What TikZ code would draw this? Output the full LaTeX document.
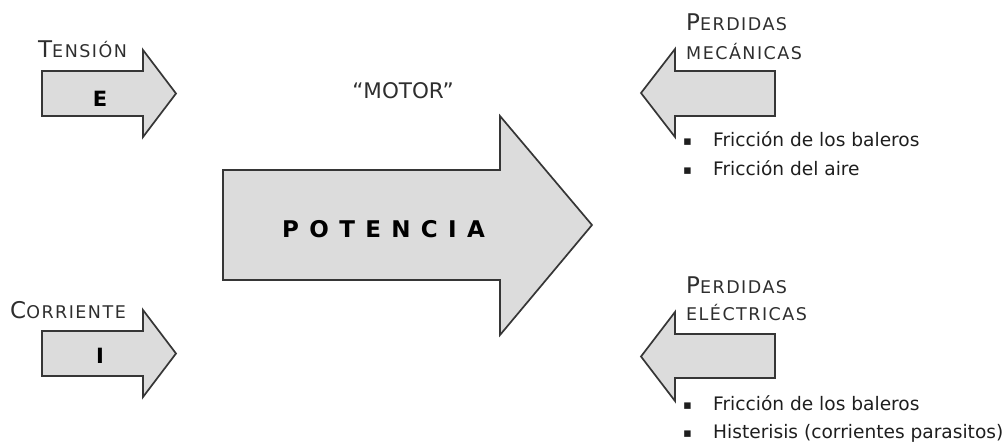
\documentclass[tikz,border=0pt]{standalone}
\usepackage{fontspec}
\setmainfont{DejaVu Sans}
\definecolor{arrfill}{HTML}{DCDCDC}
\definecolor{arrline}{HTML}{363636}
\definecolor{labcol}{HTML}{2E2E2E}
\definecolor{bulcol}{HTML}{1E1E1E}
\newcommand\mysc[2]{{\fontsize{23}{26}\selectfont #1}{\fontsize{17.5}{20}\selectfont #2}}
\newcommand\mybul{\makebox[30pt][l]{\raisebox{1pt}{\fontsize{13}{14}\selectfont ▪}}}
\begin{document}
\begin{tikzpicture}[x=1pt,y=-1pt,
  arr/.style={fill=arrfill, draw=arrline, line width=1.7pt, line join=miter},
  lab/.style={anchor=base west, inner sep=0pt, text=labcol, font=\addfontfeature{LetterSpace=8.5}},
  bul/.style={anchor=base west, inner sep=0pt, text=bulcol, font=\fontsize{18.6}{21}\selectfont},
  big/.style={anchor=base, inner sep=0pt, text=black, font=\bfseries\fontsize{21}{24}\selectfont},
]
\useasboundingbox (0,0) rectangle (1005,442);

% input arrows
\draw[arr] (42,71) -- (143,71) -- (143,50) -- (176,93.5) -- (143,137) -- (143,116) -- (42,116) -- cycle;
\draw[arr] (42,331) -- (143,331) -- (143,310) -- (176,353.5) -- (143,397) -- (143,376) -- (42,376) -- cycle;
% main arrow
\draw[arr] (223,170) -- (500,170) -- (500,116) -- (592,225) -- (500,335) -- (500,280) -- (223,280) -- cycle;
% loss arrows
\draw[arr] (775,71) -- (675,71) -- (675,49) -- (641,93) -- (675,137) -- (675,116) -- (775,116) -- cycle;
\draw[arr] (775,334) -- (675,334) -- (675,312) -- (641,356.5) -- (675,401) -- (675,378) -- (775,378) -- cycle;

% labels
\node[lab] (tension) at (38,57) {\mysc{T}{ENSIÓN}};
\node[big] (e) at (100,106) {E};
\node[lab] (corriente) at (10,318) {\mysc{C}{ORRIENTE}};
\node[big] (i) at (100,363) {I};

\node[anchor=base, inner sep=0pt, text=labcol, font=\fontsize{21.5}{24}\selectfont] (motor) at (403,98) {“MOTOR”};
\node[anchor=base west, inner sep=0pt, text=black, font=\bfseries\fontsize{23}{26}\selectfont\addfontfeature{LetterSpace=45}] (potencia) at (282,237) {POTENCIA};

\node[lab] (pm1) at (686,30) {\mysc{P}{ERDIDAS}};
\node[lab] (pm2) at (686,59) {\mysc{}{MECÁNICAS}};
\node[lab] (pe1) at (686,293) {\mysc{P}{ERDIDAS}};
\node[lab] (pe2) at (686,320) {\mysc{}{ELÉCTRICAS}};

% bullet lists
\node[bul] (m1) at (683,146) {\mybul Fricción de los baleros};
\node[bul] (m2) at (683,175) {\mybul Fricción del aire};
\node[bul] (e1) at (683,410) {\mybul Fricción de los baleros};
\node[bul] (e2) at (683,438) {\mybul Histerisis (corrientes parasitos)};
\end{tikzpicture}
\end{document}
